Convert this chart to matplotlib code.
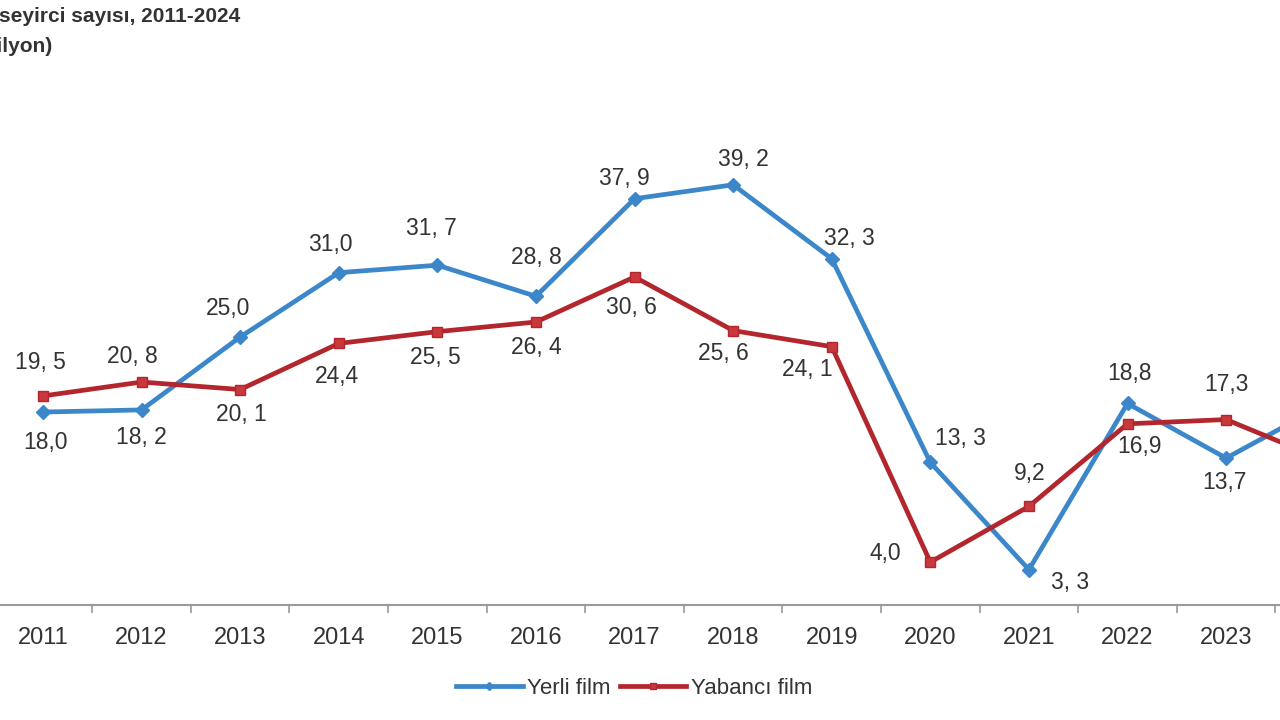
import numpy as np
import matplotlib.pyplot as plt
from matplotlib.ticker import FixedLocator

plt.rcParams['font.family'] = ['Liberation Sans', 'DejaVu Sans']

# Veriler (milyon kişi)
years = ['2011', '2012', '2013', '2014', '2015', '2016', '2017',
         '2018', '2019', '2020', '2021', '2022', '2023', '2024']
yerli = [18.0, 18.2, 25.0, 31.0, 31.7, 28.8, 37.9, 39.2, 32.3, 13.3, 3.3, 18.8, 13.7, 18.7]
yabanci = [19.5, 20.8, 20.1, 24.4, 25.5, 26.4, 30.6, 25.6, 24.1, 4.0, 9.2, 16.9, 17.3, 13.5]

# Etiket metinleri (görseldeki gibi)
yerli_lbl = ['18,0', '18, 2', '25,0', '31,0', '31, 7', '28, 8', '37, 9',
             '39, 2', '32, 3', '13, 3', '3, 3', '18,8', '13,7', '']
yabanci_lbl = ['19, 5', '20, 8', '20, 1', '24,4', '25, 5', '26, 4', '30, 6',
               '25, 6', '24, 1', '4,0', '9,2', '16,9', '17,3', '']

# etiket kaydırmaları (piksel)
yerli_off = [(3, -30), (0, -28), (-12, 28), (-8, 28), (-6, 37), (0, 39), (-10, 20),
             (10, 25), (18, 20), (30, 24), (41, -13), (2, 30), (-2, -24), (0, 0)]
yabanci_off = [(-3, 33), (-9, 26), (1, -25), (-2, -33), (-2, -26), (0, -26), (-3, -31),
               (-10, -23), (-24, -23), (-45, 9), (1, 33), (12, -23), (0, 35), (0, 0)]

blue = '#3b87c9'
red = '#b3262d'
txt = '#333333'

x = np.arange(len(years))

fig = plt.figure(figsize=(12.8, 7.2), dpi=100)
ax = fig.add_axes([-6.3 / 1280, 115 / 720, 1380.3 / 1280, 482.4 / 720])

ax.plot(x, yerli, color=blue, lw=3.4, marker='D', markersize=7.5,
        label='Yerli film', zorder=3)
ax.plot(x, yabanci, color=red, lw=3.4, marker='s', markersize=7.5,
        markerfacecolor='#c8383d', label='Yabancı film', zorder=3)

for i in range(len(years)):
    if yerli_lbl[i]:
        ax.annotate(yerli_lbl[i], (x[i], yerli[i]), xytext=yerli_off[i],
                    textcoords='offset pixels', ha='center', va='center',
                    fontsize=16.5, color=txt)
    if yabanci_lbl[i]:
        ax.annotate(yabanci_lbl[i], (x[i], yabanci[i]), xytext=yabanci_off[i],
                    textcoords='offset pixels', ha='center', va='center',
                    fontsize=16.5, color=txt)

ax.set_xlim(-0.5, len(years) - 0.5)
ax.set_ylim(0, 45)
ax.set_xticks(x)
ax.set_xticklabels(years, fontsize=17, color=txt)
ax.xaxis.set_minor_locator(FixedLocator(np.arange(-0.5, len(years), 1)))
ax.tick_params(axis='x', which='major', length=0, pad=16)
ax.tick_params(axis='x', which='minor', length=6, width=1.2, color='#9a9a9a', direction='out')
ax.set_yticks([])
for s in ['top', 'right', 'left']:
    ax.spines[s].set_visible(False)
ax.spines['bottom'].set_color('#9a9a9a')
ax.spines['bottom'].set_linewidth(1.5)

# başlık (görselde solda kırpılmış)
fig.text(-1 / 1280, 1 - 17 / 720, 'seyirci sayısı, 2011-2024', ha='left', va='center',
         fontsize=15, fontweight='bold', color=txt)
fig.text(52 / 1280, 1 - 46 / 720, '(Milyon)', ha='right', va='center',
         fontsize=15, fontweight='bold', color=txt)

leg = fig.legend(loc='center', bbox_to_anchor=(634 / 1280, 1 - 688 / 720), ncol=2,
                 frameon=False, fontsize=16, handlelength=3.0, handletextpad=0.2,
                 columnspacing=0.4, markerscale=0.5)
for t in leg.get_texts():
    t.set_color(txt)

fig.savefig('out.png', dpi=100)
